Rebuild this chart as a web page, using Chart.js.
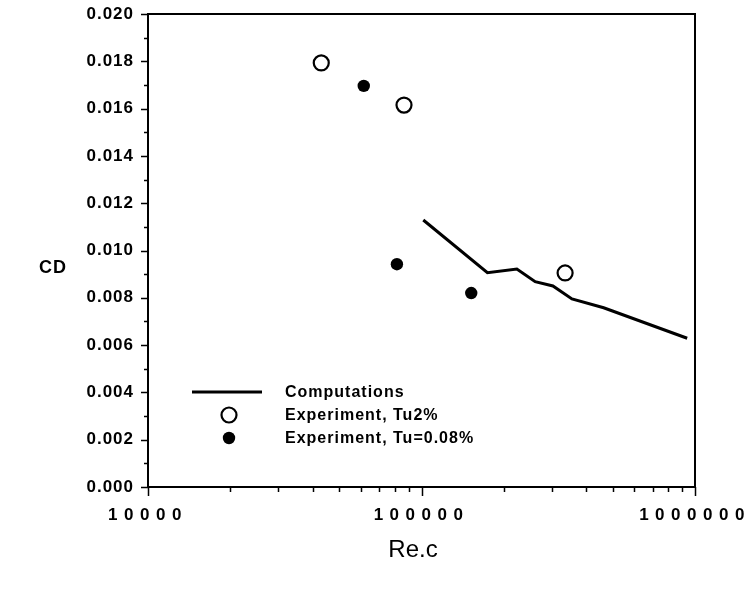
<!DOCTYPE html>
<html>
<head>
<meta charset="utf-8">
<style>
  html, body { margin: 0; padding: 0; background: #fff; }
  #wrap { width: 753px; height: 589px; }
</style>
<script src="https://cdn.jsdelivr.net/npm/chart.js@4/dist/chart.umd.min.js"></script>
</head>
<body>
<div id="wrap"><canvas id="c" width="753" height="589"></canvas></div>
<script>
// ---- data ----
const computationsRe = [101500, 174200, 223200, 260400, 302400, 354900, 463400, 936300];
const computationsCD = [0.01129, 0.00906, 0.00922, 0.00868, 0.00850, 0.00795, 0.00758, 0.00629];
const tu2Re = [43000, 86300, 335000];
const tu2CD = [0.01793, 0.01615, 0.00905];
const tu008Re = [61500, 81300, 152000];
const tu008CD = [0.01696, 0.00942, 0.00820];
const xTickValues = [10000, 100000, 1000000];
const xTickLabels = ['10000', '100000', '1000000'];
const yTickValues = [0, 0.002, 0.004, 0.006, 0.008, 0.010, 0.012, 0.014, 0.016, 0.018, 0.020];
const yTickLabels = ['0.000', '0.002', '0.004', '0.006', '0.008', '0.010', '0.012', '0.014', '0.016', '0.018', '0.020'];
const seriesLabels = ['Computations', 'Experiment, Tu2%', 'Experiment, Tu=0.08%'];
const xTitle = 'Re.c';
const yTitle = 'CD';

const FONT = '"Liberation Sans", Arial, Helvetica, sans-serif';
const zip = (xs, ys) => xs.map((x, i) => ({ x: x, y: ys[i] }));

function wrapLabels(scale, spacing) {
  if (!scale || scale._wrappedLabels) return;
  const orig = scale.drawLabels.bind(scale);
  scale.drawLabels = function (area) {
    const ctx = this.ctx;
    ctx.save();
    ctx.letterSpacing = spacing;
    orig(area);
    ctx.restore();
  };
  scale._wrappedLabels = true;
}

const framePlugin = {
  id: 'frame',
  beforeDraw(chart) {
    wrapLabels(chart.scales.x, '6.5px');
    wrapLabels(chart.scales.y, '1px');
  },
  afterDraw(chart) {
    const ctx = chart.ctx;
    const a = chart.chartArea;
    const xs = chart.scales.x, ys = chart.scales.y;
    ctx.save();
    ctx.strokeStyle = '#000';
    ctx.lineWidth = 2;
    ctx.strokeRect(a.left, a.top, a.right - a.left, a.bottom - a.top);
    // y ticks (major + minor), outward to the left
    ctx.lineWidth = 1.5;
    ctx.beginPath();
    for (let i = 0; i <= 20; i++) {
      const v = i * 0.001;
      const py = Math.round(ys.getPixelForValue(v)) + 0.5;
      const len = (i % 2 === 0) ? 7 : 4;
      ctx.moveTo(a.left - len, py);
      ctx.lineTo(a.left, py);
    }
    // x ticks, outward downward
    for (let d = 10000; d < 1000000; d *= 10) {
      for (let m = 1; m <= 10; m++) {
        const v = d * m;
        const px = Math.round(xs.getPixelForValue(v)) + 0.5;
        const len = (m === 1 || m === 10) ? 9 : 5;
        ctx.moveTo(px, a.bottom);
        ctx.lineTo(px, a.bottom + len);
      }
    }
    ctx.stroke();

    // axis titles
    ctx.fillStyle = '#000';
    ctx.textAlign = 'center';
    ctx.textBaseline = 'middle';
    ctx.font = 'bold 18px ' + FONT;
    ctx.letterSpacing = '1px';
    ctx.fillText(yTitle, 53, 268);
    ctx.font = '24px ' + FONT;
    ctx.letterSpacing = '0px';
    ctx.fillText(xTitle, 413, 550);

    // legend
    const ds = chart.data.datasets;
    ctx.font = 'bold 16px ' + FONT;
    ctx.textAlign = 'left';
    ctx.letterSpacing = '1px';
    const rows = [392, 415, 438];
    ctx.strokeStyle = '#000';
    ctx.lineWidth = 3;
    ctx.beginPath();
    ctx.moveTo(192, rows[0]);
    ctx.lineTo(262, rows[0]);
    ctx.stroke();
    ctx.lineWidth = 2.2;
    ctx.beginPath();
    ctx.arc(229, rows[1], 7.5, 0, Math.PI * 2);
    ctx.fillStyle = '#fff';
    ctx.fill();
    ctx.stroke();
    ctx.beginPath();
    ctx.arc(229, rows[2], 6.2, 0, Math.PI * 2);
    ctx.fillStyle = '#000';
    ctx.fill();
    for (let i = 0; i < 3; i++) {
      ctx.fillText(ds[i].label, 285, rows[i] + 1);
    }
    ctx.restore();
  }
};

new Chart(document.getElementById('c'), {
  type: 'scatter',
  data: {
    datasets: [
      {
        label: seriesLabels[0],
        data: zip(computationsRe, computationsCD),
        showLine: true,
        borderColor: '#000',
        borderWidth: 3,
        pointRadius: 0,
        pointHoverRadius: 0,
        fill: false,
        tension: 0
      },
      {
        label: seriesLabels[1],
        data: zip(tu2Re, tu2CD),
        showLine: false,
        pointStyle: 'circle',
        pointRadius: 7.5,
        pointBorderWidth: 2.2,
        pointBorderColor: '#000',
        pointBackgroundColor: '#fff'
      },
      {
        label: seriesLabels[2],
        data: zip(tu008Re, tu008CD),
        showLine: false,
        pointStyle: 'circle',
        pointRadius: 6.2,
        pointBorderWidth: 0,
        pointBorderColor: '#000',
        pointBackgroundColor: '#000'
      }
    ]
  },
  options: {
    responsive: false,
    animation: false,
    devicePixelRatio: 1,
    layout: { padding: { left: 0, right: 58, top: 14, bottom: 0 } },
    plugins: {
      legend: { display: false },
      tooltip: { enabled: false },
      title: { display: false }
    },
    scales: {
      x: {
        type: 'logarithmic',
        min: 10000,
        max: 1000000,
        grid: { display: false, drawTicks: false },
        border: { display: false },
        afterBuildTicks(scale) {
          scale.ticks = xTickValues.map(v => ({ value: v }));
        },
        afterFit(scale) {
          scale.height = 102;
          scale.paddingLeft = 0;
          scale.paddingRight = 0;
        },
        ticks: {
          autoSkip: false,
          maxRotation: 0,
          minRotation: 0,
          padding: 18,
          color: '#000',
          font: { family: FONT, size: 17, weight: 'bold' },
          callback(value) {
            const i = xTickValues.indexOf(value);
            return i >= 0 ? xTickLabels[i] : '';
          }
        }
      },
      y: {
        type: 'linear',
        min: 0,
        max: 0.02,
        grid: { display: false, drawTicks: false },
        border: { display: false },
        afterBuildTicks(scale) {
          scale.ticks = yTickValues.map(v => ({ value: v }));
        },
        afterFit(scale) {
          scale.width = 148;
          scale.paddingTop = 0;
          scale.paddingBottom = 0;
        },
        ticks: {
          padding: 14,
          color: '#000',
          font: { family: FONT, size: 17, weight: 'bold' },
          callback(value) {
            let best = 0;
            for (let i = 1; i < yTickValues.length; i++) {
              if (Math.abs(yTickValues[i] - value) < Math.abs(yTickValues[best] - value)) best = i;
            }
            return yTickLabels[best];
          }
        }
      }
    }
  },
  plugins: [framePlugin]
});
</script>
</body>
</html>
